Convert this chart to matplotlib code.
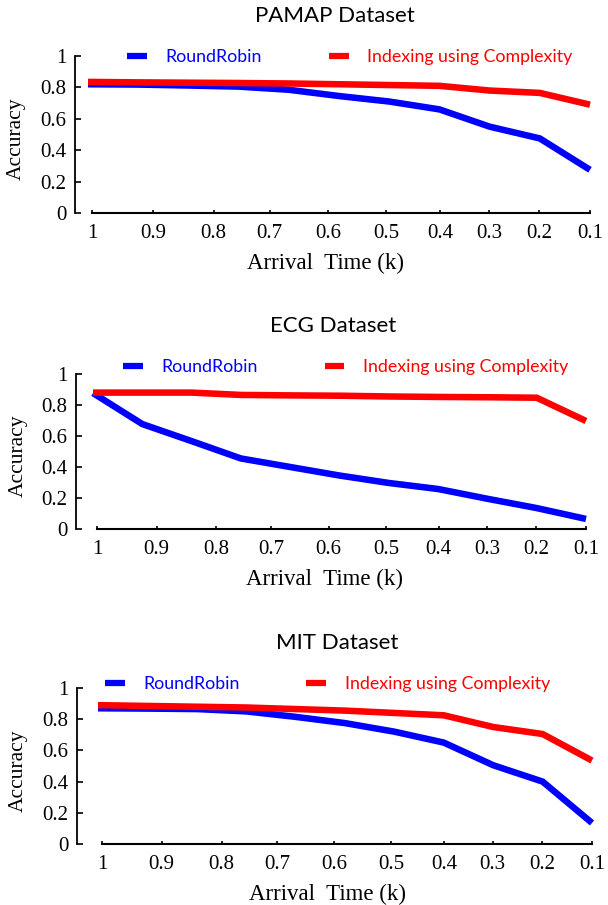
import matplotlib
matplotlib.use("Agg")
import matplotlib.pyplot as plt
import numpy as np

# ---------------- data ----------------
titles = ["PAMAP Dataset", "ECG Dataset", "MIT Dataset"]
series_names = ["RoundRobin", "Indexing using Complexity"]
tick_labels = ["1", "0.9", "0.8", "0.7", "0.6", "0.5", "0.4", "0.3", "0.2", "0.1"]
y_ticks = [0, 0.2, 0.4, 0.6, 0.8, 1]
y_tick_labels = ["0", "0.2", "0.4", "0.6", "0.8", "1"]

# 11 evenly spaced measurement steps per curve
pamap_rr = [0.82, 0.818, 0.812, 0.805, 0.785, 0.745, 0.71, 0.66, 0.55, 0.475, 0.275]
pamap_ic = [0.835, 0.832, 0.830, 0.828, 0.825, 0.82, 0.815, 0.81, 0.78, 0.765, 0.69]
ecg_rr = [0.877, 0.677, 0.567, 0.455, 0.40, 0.345, 0.297, 0.258, 0.195, 0.135, 0.065]
ecg_ic = [0.88, 0.88, 0.88, 0.865, 0.862, 0.86, 0.855, 0.852, 0.85, 0.847, 0.697]
mit_rr = [0.87, 0.868, 0.865, 0.85, 0.815, 0.775, 0.72, 0.65, 0.505, 0.40, 0.135]
mit_ic = [0.89, 0.885, 0.88, 0.875, 0.865, 0.855, 0.84, 0.825, 0.75, 0.705, 0.535]

rr_all = [pamap_rr, ecg_rr, mit_rr]
ic_all = [pamap_ic, ecg_ic, mit_ic]

# ---------------- layout ----------------
W, H = 608, 905
# (y-axis px, first point px, last point px, y=1 px, y=0 px)
panels = [(75, 88, 590, 56, 213), (76, 93, 586, 374, 529), (77, 98, 592, 688, 844)]
tick_pos = [0.08, 1.29, 2.5, 3.62, 4.78, 5.94, 7.01, 7.99, 8.99, 10.0]
title_y = [16, 326, 643]
legend_pos = [(0.101, 0.994), (0.092, 1.045), (0.054, 1.026)]

serif = "Liberation Serif"
sans = "Lato"

fig = plt.figure(figsize=(W / 100, H / 100), dpi=100)

for i in range(3):
    ax_px, p0, p10, y1, y0 = panels[i]
    sp = (p10 - p0) / 10.0
    xmin = -(p0 - ax_px) / sp
    ax = fig.add_axes([ax_px / W, 1 - y0 / H, (p10 - ax_px) / W, (y0 - y1) / H])
    x = np.arange(len(rr_all[i]))
    l1, = ax.plot(x, rr_all[i], color="#0000ff", lw=4.7, solid_capstyle="butt",
                  solid_joinstyle="miter", clip_on=False, label=series_names[0])
    l2, = ax.plot(x, ic_all[i], color="#ff0000", lw=4.7, solid_capstyle="butt",
                  solid_joinstyle="miter", clip_on=False, label=series_names[1])
    ax.set_xlim(xmin, 10)
    ax.set_ylim(0, 1)
    for s in ["top", "right"]:
        ax.spines[s].set_visible(False)
    ax.spines["left"].set_linewidth(1.3)
    ax.spines["bottom"].set_linewidth(1.5)
    ax.spines["bottom"].set_bounds(tick_pos[0], tick_pos[-1])
    ax.set_xticks(tick_pos)
    ax.set_xticklabels(tick_labels, fontfamily=serif, fontsize=15)
    ax.set_yticks(y_ticks)
    ax.set_yticklabels(y_tick_labels, fontfamily=serif, fontsize=15)
    ax.tick_params(axis="y", direction="in", length=4, width=1.2, pad=6)
    ax.tick_params(axis="x", direction="in", length=2.5, width=1.2, pad=8)
    ax.set_xlabel("Arrival  Time (k)", fontfamily=serif, fontsize=16.5)
    ax.xaxis.set_label_coords(0.487, -0.255)
    ax.xaxis.label.set_va("top")
    ax.set_ylabel("Accuracy", fontfamily=serif, fontsize=15.5)
    ax.yaxis.set_label_coords(-0.095, 0.47)
    leg = ax.legend(handles=[l1, l2], loc="center left", bbox_to_anchor=legend_pos[i],
                    ncol=2, frameon=False, borderpad=0, borderaxespad=0,
                    handlelength=1.12, handletextpad=1.05, columnspacing=3.75,
                    prop={"family": sans, "size": 12.8})
    for t, c in zip(leg.get_texts(), ["#0000ff", "#ff0000"]):
        t.set_color(c)
    for h in leg.legend_handles:
        h.set_linewidth(4.5)
    fig.text((ax_px + p10) / 2 / W + 0.004, 1 - title_y[i] / H, titles[i],
             ha="center", va="center", fontfamily=sans, fontsize=16)

fig.savefig("out.png", dpi=100)
